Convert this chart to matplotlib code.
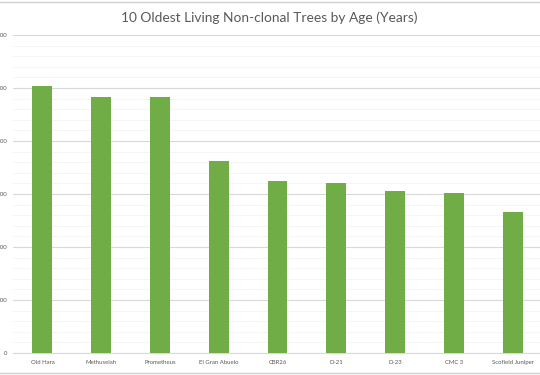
import numpy as np
from matplotlib import pyplot as plt
from matplotlib.ticker import MultipleLocator
from matplotlib.lines import Line2D

trees = ['Old Hara', 'Methuselah', 'Prometheus', 'El Gran Abuelo', 'CBR26',
         'D-21', 'D-23', 'CMC 3', 'Scofield Juniper']
ages = [5035, 4830, 4830, 3620, 3250, 3200, 3065, 3015, 2655]

plt.rcParams['font.family'] = ['Lato', 'DejaVu Sans']
grey = '#595959'

fig = plt.figure(figsize=(5.4, 3.75), dpi=100)
ax = fig.add_axes([13 / 540, 22 / 375, 529 / 540, 318 / 375])

x = np.arange(len(trees))
ax.bar(x, ages, width=0.34, color='#70AD47', zorder=3)

ax.set_xlim(-0.5, len(trees) - 0.5)
ax.set_ylim(0, 6000)
ax.yaxis.set_major_locator(MultipleLocator(1000))
ax.yaxis.set_minor_locator(MultipleLocator(200))
ax.grid(axis='y', which='major', color='#D9D9D9', lw=0.8, zorder=0)
ax.grid(axis='y', which='minor', color='#F4F4F4', lw=0.7, zorder=0)

ax.set_xticks(x)
ax.set_xticklabels(trees)
ax.tick_params(axis='both', which='both', length=0, labelsize=4.3, labelcolor=grey)
ax.tick_params(axis='y', pad=4)
ax.tick_params(axis='x', pad=5)

for side in ['top', 'right', 'left']:
    ax.spines[side].set_visible(False)
ax.spines['bottom'].set_color('#D9D9D9')
ax.spines['bottom'].set_linewidth(0.8)

fig.text(0.498, 0.952, '10 Oldest Living Non-clonal Trees by Age (Years)',
         ha='center', va='center', fontsize=9.9, color=grey)

# thin frame lines at top and bottom of the chart area
fig.add_artist(Line2D([0, 1], [1 - 1.5 / 375, 1 - 1.5 / 375], color='#D0D0D0', lw=1))
fig.add_artist(Line2D([0, 1], [2.5 / 375, 2.5 / 375], color='#D0D0D0', lw=1))

fig.savefig('out.png', dpi=100)
